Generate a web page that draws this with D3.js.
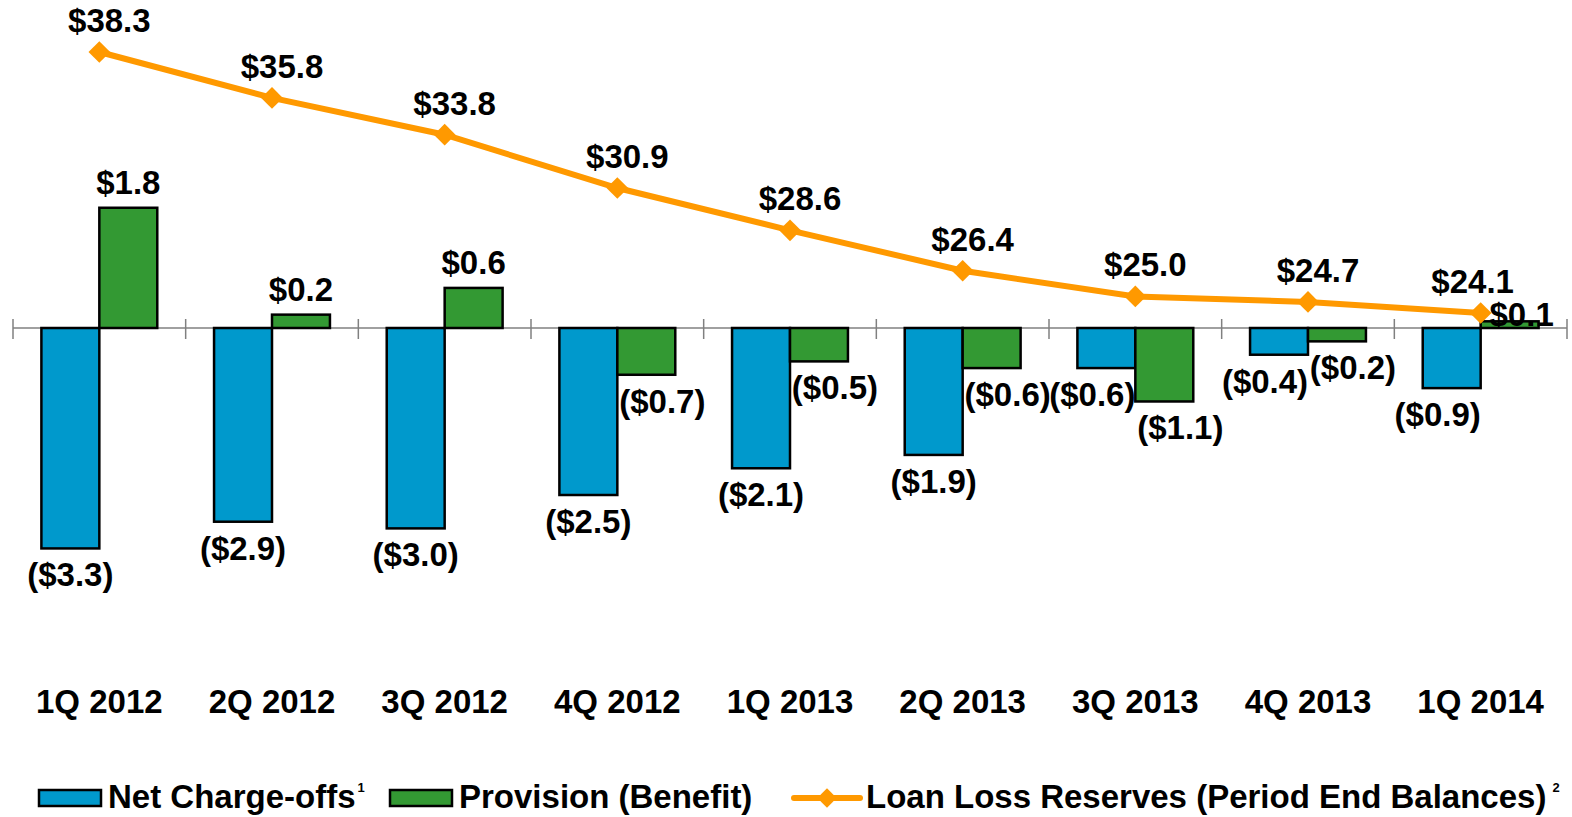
<!DOCTYPE html>
<html>
<head>
<meta charset="utf-8">
<script src="https://cdn.jsdelivr.net/npm/d3@7"></script>
<style>
  html, body { margin: 0; padding: 0; background: #fff; }
  svg { display: block; font-family: "Liberation Sans", Arial, sans-serif; font-weight: bold; }
</style>
</head>
<body>
<div id="chart"></div>
<script>
;(function() {
  'use strict';

  // Quarters along the x axis.
  var quarters = ['1Q 2012', '2Q 2012', '3Q 2012', '4Q 2012', '1Q 2013',
                  '2Q 2013', '3Q 2013', '4Q 2013', '1Q 2014'];

  // Series values ($ millions).
  var netChargeOffs = [-3.3, -2.9, -3.0, -2.5, -2.1, -1.9, -0.6, -0.4, -0.9];
  var provision     = [1.8, 0.2, 0.6, -0.7, -0.5, -0.6, -1.1, -0.2, 0.1];
  var reserves      = [38.3, 35.8, 33.8, 30.9, 28.6, 26.4, 25.0, 24.7, 24.1];

  var seriesNames = ['Net Charge-offs', 'Provision (Benefit)',
                     'Loan Loss Reserves (Period End Balances)'];

  var colors = { nco: '#0099cc', prov: '#339933', line: '#ff9900' };

  var width = 1572, height = 817;
  var fs = 33;

  var svg = d3.select('#chart').append('svg')
      .attr('width', width)
      .attr('height', height);

  // Scales.
  var x0 = d3.scaleBand().domain(quarters).range([13, 1567]);
  var x1 = d3.scaleBand().domain(['nco', 'prov'])
      .range([0, x0.bandwidth()]).paddingInner(0).paddingOuter(0.49);

  // Bars: zero at 328, about 66.8 px per unit.
  var yBar = d3.scaleLinear().domain([-4, 2]).range([328 + 4 * 66.8, 328 - 2 * 66.8]);
  // Line on its own (hidden) secondary axis.
  var yLine = d3.scaleLinear().domain([20, 40]).range([313 + 4.1 * 18.38, 313 - 15.9 * 18.38]);

  var fmt = function(v) {
    var s = '$' + Math.abs(v).toFixed(1);
    return v < 0 ? '(' + s + ')' : s;
  };

  function translation(x, y) {
    return 'translate(' + x + ',' + y + ')';
  }

  // Category axis line with ticks between categories.
  var axis = svg.append('g').attr('class', 'axis');
  axis.append('line')
      .attr('x1', x0.range()[0]).attr('x2', x0.range()[1])
      .attr('y1', yBar(0)).attr('y2', yBar(0))
      .attr('stroke', '#808080').attr('stroke-width', 1.5);

  var tickXs = quarters.map(function(q) { return x0(q); }).concat([x0.range()[1]]);
  axis.selectAll('.tick').data(tickXs).enter()
      .append('line')
      .attr('class', 'tick')
      .attr('x1', function(d) { return d; }).attr('x2', function(d) { return d; })
      .attr('y1', yBar(0) - 9).attr('y2', yBar(0) + 11)
      .attr('stroke', '#808080').attr('stroke-width', 1.5);

  // Bar data.
  var bars = [];
  quarters.forEach(function(q, i) {
    bars.push({ q: q, key: 'nco', v: netChargeOffs[i] });
    bars.push({ q: q, key: 'prov', v: provision[i] });
  });

  var barG = svg.append('g');
  barG.selectAll('rect').data(bars).enter()
      .append('rect')
      .attr('x', function(d) { return x0(d.q) + x1(d.key); })
      .attr('y', function(d) { return yBar(Math.max(0, d.v)); })
      .attr('width', x1.bandwidth())
      .attr('height', function(d) { return Math.abs(yBar(d.v) - yBar(0)); })
      .attr('fill', function(d) { return colors[d.key]; })
      .attr('stroke', '#000')
      .attr('stroke-width', 2.5);

  // Bar labels.
  barG.selectAll('text').data(bars).enter()
      .append('text')
      .attr('text-anchor', 'middle')
      .attr('font-size', fs)
      .attr('x', function(d) {
        var cx = x0(d.q) + x1(d.key) + x1.bandwidth() / 2;
        if (d.v < 0 && d.key === 'prov') cx += 16;
        if (d.v < 0 && d.key === 'nco' && Math.abs(d.v) < 1) cx -= 14;
        if (d.v > 0 && d.v < 0.15) cx += 12;
        return cx;
      })
      .attr('y', function(d) {
        if (d.v >= 0 && d.v < 0.15) return yBar(0) - 2;   // keep clear of the line label
        return d.v >= 0 ? yBar(d.v) - 14 : yBar(d.v) + 38;
      })
      .text(function(d) { return fmt(d.v); });

  // Reserves line.
  var cx = function(i) { return x0(quarters[i]) + x0.bandwidth() / 2; };
  var line = d3.line()
      .x(function(d, i) { return cx(i); })
      .y(function(d) { return yLine(d); });

  var lineG = svg.append('g');
  lineG.append('path')
      .datum(reserves)
      .attr('d', line)
      .attr('fill', 'none')
      .attr('stroke', colors.line)
      .attr('stroke-width', 6);

  var diamond = d3.symbol().type(d3.symbolDiamond2).size(300);
  lineG.selectAll('.marker').data(reserves).enter()
      .append('path')
      .attr('class', 'marker')
      .attr('d', diamond)
      .attr('transform', function(d, i) { return translation(cx(i), yLine(d)); })
      .attr('fill', colors.line);

  lineG.selectAll('text').data(reserves).enter()
      .append('text')
      .attr('text-anchor', 'middle')
      .attr('font-size', fs)
      .attr('x', function(d, i) { return cx(i) + (i === reserves.length - 1 ? -8 : 10); })
      .attr('y', function(d) { return yLine(d) - 20; })
      .text(fmt);

  // Category labels.
  svg.append('g').selectAll('text').data(quarters).enter()
      .append('text')
      .attr('text-anchor', 'middle')
      .attr('font-size', fs)
      .attr('x', function(d) { return x0(d) + x0.bandwidth() / 2; })
      .attr('y', 713)
      .text(function(d) { return d; });

  // Legend.
  var legend = svg.append('g').attr('transform', translation(0, 797));

  legend.append('rect')
      .attr('x', 39).attr('y', -7).attr('width', 62).attr('height', 16)
      .attr('fill', colors.nco).attr('stroke', '#000').attr('stroke-width', 2.5);
  var t1 = legend.append('text').attr('x', 108).attr('y', 11).attr('font-size', fs);
  t1.append('tspan').text(seriesNames[0]);
  t1.append('tspan').attr('font-size', 13).attr('dy', -16).attr('dx', 2).text('1');

  legend.append('rect')
      .attr('x', 390).attr('y', -7).attr('width', 62).attr('height', 16)
      .attr('fill', colors.prov).attr('stroke', '#000').attr('stroke-width', 2.5);
  legend.append('text').attr('x', 459).attr('y', 11).attr('font-size', fs)
      .text(seriesNames[1]);

  legend.append('line')
      .attr('x1', 794).attr('x2', 860).attr('y1', 1).attr('y2', 1)
      .attr('stroke', colors.line).attr('stroke-width', 6).attr('stroke-linecap', 'round');
  legend.append('path')
      .attr('d', d3.symbol().type(d3.symbolDiamond2).size(240))
      .attr('transform', translation(827, 1))
      .attr('fill', colors.line);
  var t3 = legend.append('text').attr('x', 866).attr('y', 11).attr('font-size', fs);
  t3.append('tspan').text(seriesNames[2]);
  t3.append('tspan').attr('font-size', 13).attr('dy', -16).attr('dx', 6).text('2');
}());
</script>
</body>
</html>
